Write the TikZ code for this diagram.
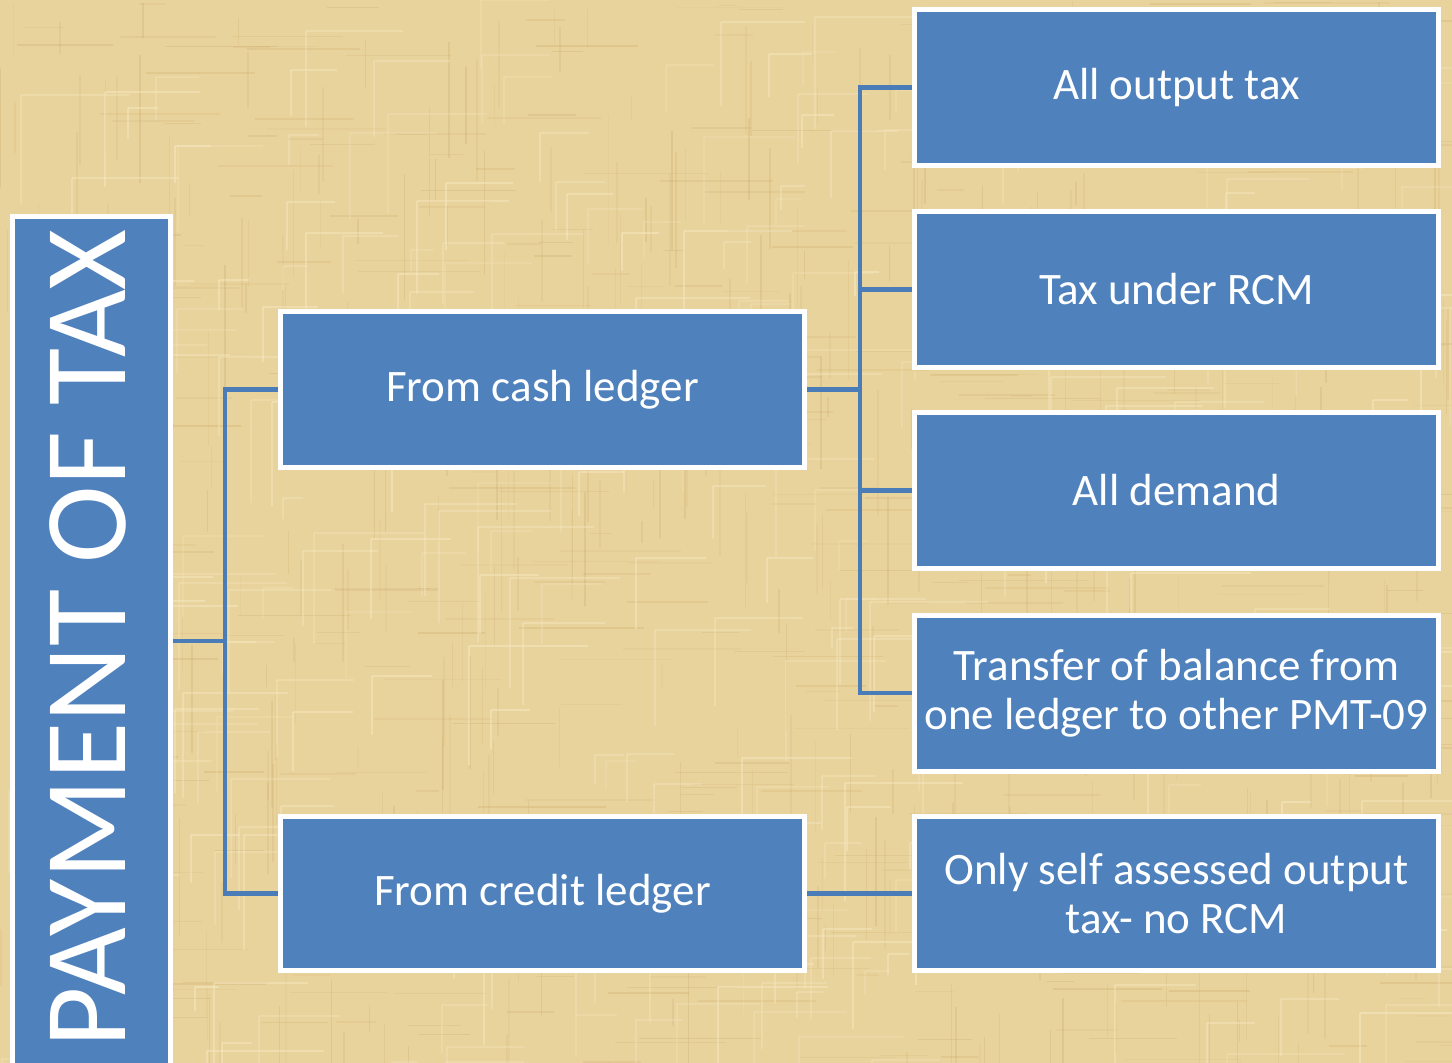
\documentclass[tikz,border=0pt]{standalone}
\usepackage{fontspec}
\setmainfont{Carlito}
\begin{document}
\definecolor{parch}{HTML}{E9D39D}
\definecolor{parchdark}{HTML}{CFB070}
\definecolor{parchlight}{HTML}{F6E8C0}
\definecolor{boxblue}{HTML}{4F81BD}
\definecolor{linkblue}{HTML}{4A7CB8}
\begin{tikzpicture}[x=1pt,y=-1pt,
  box/.style={draw=white, line width=5pt, fill=boxblue, text=white,
    font=\fontsize{45}{49}\selectfont, align=center, inner sep=0pt},
  rbox/.style={box, minimum width=524pt, minimum height=156pt},
  link/.style={draw=linkblue, line width=4.5pt, line join=miter}]
% parchment background with a woven texture
\fill[parch] (0,0) rectangle (1452,1063);
\useasboundingbox (0,0) rectangle (1452,1063);
\pgfmathsetseed{11}
\begin{scope}
\clip (0,0) rectangle (1452,1063);
\foreach \i in {1,...,420}{
  \pgfmathsetmacro{\xa}{rnd*1452}
  \pgfmathsetmacro{\ya}{rnd*1063}
  \pgfmathsetmacro{\len}{20+rnd*110}
  \pgfmathsetmacro{\op}{0.12+rnd*0.25}
  \draw[parchdark, opacity=\op, line width=1.5pt] (\xa,\ya) -- ++(0,\len);
}
\foreach \i in {1,...,420}{
  \pgfmathsetmacro{\xa}{rnd*1452}
  \pgfmathsetmacro{\ya}{rnd*1063}
  \pgfmathsetmacro{\len}{20+rnd*110}
  \pgfmathsetmacro{\op}{0.12+rnd*0.25}
  \draw[parchdark, opacity=\op, line width=1.5pt] (\xa,\ya) -- ++(\len,0);
}
\foreach \i in {1,...,300}{
  \pgfmathsetmacro{\xa}{rnd*1452}
  \pgfmathsetmacro{\ya}{rnd*1063}
  \pgfmathsetmacro{\len}{20+rnd*100}
  \pgfmathsetmacro{\op}{0.2+rnd*0.35}
  \draw[parchlight, opacity=\op, line width=2pt] (\xa,\ya) -- ++(0,\len);
  \draw[parchlight, opacity=\op, line width=2pt] (\xa,\ya) -- ++(\len,0);
}
\end{scope}

% title bar
\node[box, minimum width=158pt, minimum height=870pt] (title) at (91.5,651) {};
\node[text=white, font=\fontsize{117}{117}\selectfont, rotate=90, inner sep=0pt]
  (titletext) at (88,638.5) {PAYMENT OF TAX};

% second level
\node[box, minimum width=524pt, minimum height=156pt] (cash) at (542.5,389.5) {From cash ledger};
\node[box, minimum width=524pt, minimum height=154pt] (credit) at (542.5,893.5) {From credit ledger};

% third level
\node[rbox] (r1) at (1176.5,87.5) {All output tax};
\node[rbox] (r2) at (1176.5,289.5) {Tax under RCM};
\node[rbox] (r3) at (1176.5,490.5) {All demand};
\node[rbox] (r4) at (1176.5,693) {Transfer of balance from\\one ledger to other PMT-09};
\node[rbox, minimum height=154pt] (r5) at (1176.5,893.5) {Only self assessed output\\tax- no RCM};

% connectors
\coordinate (j1) at (225,641);
\coordinate (j2) at (860,389.5);
\draw[link] (title.east |- j1) -- (j1);
\draw[link] (cash.west) -| (j1) |- (credit.west);
\draw[link] (cash.east) -- (j2);
\draw[link] (r1.west) -| (j2) |- (r4.west);
\draw[link] (r2.west) -- (r2.west -| j2);
\draw[link] (r3.west) -- (r3.west -| j2);
\draw[link] (credit.east) -- (r5.west);
\end{tikzpicture}
\end{document}
